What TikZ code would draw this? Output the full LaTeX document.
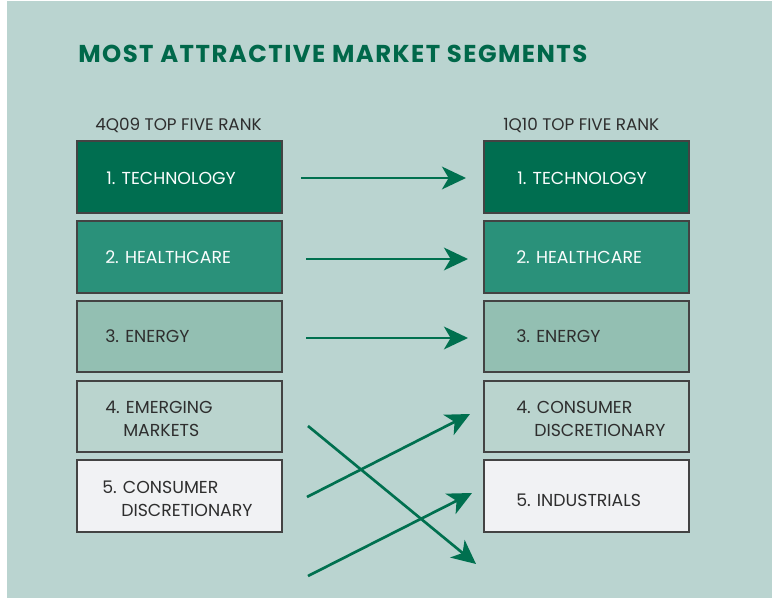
\documentclass[tikz,border=0pt]{standalone}
\usepackage{fontspec}
\setmainfont{Poppins}
\newfontfamily\titlefont{Poppins}[LetterSpace=6]
\usetikzlibrary{arrows.meta}
\definecolor{bgc}{HTML}{BAD4D0}
\definecolor{dkgreen}{HTML}{006E50}
\definecolor{mdgreen}{HTML}{2A917A}
\definecolor{ltgreen}{HTML}{93BFB2}
\definecolor{palegreen}{HTML}{BAD4CE}
\definecolor{offwhite}{HTML}{F1F2F4}
\definecolor{arrowc}{HTML}{00704F}
\definecolor{txtdark}{HTML}{2E2E2E}
\definecolor{titlec}{HTML}{00684A}
\tikzset{
  segbox/.style={draw=txtdark!90, line width=1.2pt},
  seglabel/.style={anchor=base west, inner sep=0pt, font=\fontsize{13}{16}\selectfont},
  hdr/.style={anchor=base west, inner sep=0pt, font=\fontsize{12.6}{14}\selectfont, text=txtdark},
  movearrow/.style={draw=arrowc, line width=2pt, -{Stealth[length=18pt,width=17pt,inset=5pt]}}
}
\begin{document}
\begin{tikzpicture}[x=0.75pt,y=-0.75pt]
\useasboundingbox (0,0) rectangle (772,598);
\fill[white] (0,0) rectangle (772,598);
\fill[bgc] (7,1) rectangle (772,598);
% title
\node[anchor=base west, inner sep=0pt, text=titlec, font=\titlefont\bfseries\fontsize{18.3}{20}\selectfont] (title) at (78,63) {MOST ATTRACTIVE MARKET SEGMENTS};
\node[hdr] (hl) at (95,131) {4Q09 TOP FIVE RANK};
\node[hdr] (hr) at (503,131) {1Q10 TOP FIVE RANK};
% left boxes
\path[segbox, fill=dkgreen] (77,141) rectangle (282,213);
\path[segbox, fill=mdgreen] (77,221) rectangle (282,293);
\path[segbox, fill=ltgreen] (77,301) rectangle (282,372);
\path[segbox, fill=palegreen] (77,381) rectangle (282,452);
\path[segbox, fill=offwhite] (77,460) rectangle (282,532);
% right boxes
\path[segbox, fill=dkgreen] (484,141) rectangle (689,213);
\path[segbox, fill=mdgreen] (484,221) rectangle (689,293);
\path[segbox, fill=ltgreen] (484,301) rectangle (689,372);
\path[segbox, fill=palegreen] (484,381) rectangle (689,452);
\path[segbox, fill=offwhite] (484,460) rectangle (689,532);
% left labels
\node[seglabel, text=white!95!bgc] (l1) at (106,185) {1. TECHNOLOGY};
\node[seglabel, text=white!95!bgc] (l2) at (105,264) {2. HEALTHCARE};
\node[seglabel, text=txtdark] (l3) at (105,343) {3. ENERGY};
\node[seglabel, text=txtdark] (l4a) at (105,414) {4. EMERGING};
\node[seglabel, text=txtdark] (l4b) at (123,437) {MARKETS};
\node[seglabel, text=txtdark] (l5a) at (102,494) {5. CONSUMER};
\node[seglabel, text=txtdark] (l5b) at (121,517) {DISCRETIONARY};
% right labels
\node[seglabel, text=white!95!bgc] (r1) at (517,185) {1. TECHNOLOGY};
\node[seglabel, text=white!95!bgc] (r2) at (516,264) {2. HEALTHCARE};
\node[seglabel, text=txtdark] (r3) at (516,343) {3. ENERGY};
\node[seglabel, text=txtdark] (r4a) at (516,414) {4. CONSUMER};
\node[seglabel, text=txtdark] (r4b) at (534,437) {DISCRETIONARY};
\node[seglabel, text=txtdark] (r5) at (516,507) {5. INDUSTRIALS};
% arrow endpoints
\coordinate (a1s) at (301,178); \coordinate (a1e) at (466,178);
\coordinate (a2s) at (306,259); \coordinate (a2e) at (468,259);
\coordinate (a3s) at (306,338); \coordinate (a3e) at (468,338);
\coordinate (a4s) at (308,426); \coordinate (a4e) at (476,564);
\coordinate (a5s) at (307,497); \coordinate (a5e) at (470,414);
\coordinate (a6s) at (308,576); \coordinate (a6e) at (472,493);
\draw[movearrow] (a1s) -- (a1e);
\draw[movearrow] (a2s) -- (a2e);
\draw[movearrow] (a3s) -- (a3e);
\draw[movearrow] (a4s) -- (a4e);
\draw[movearrow] (a5s) -- (a5e);
\draw[movearrow] (a6s) -- (a6e);
\end{tikzpicture}
\end{document}
